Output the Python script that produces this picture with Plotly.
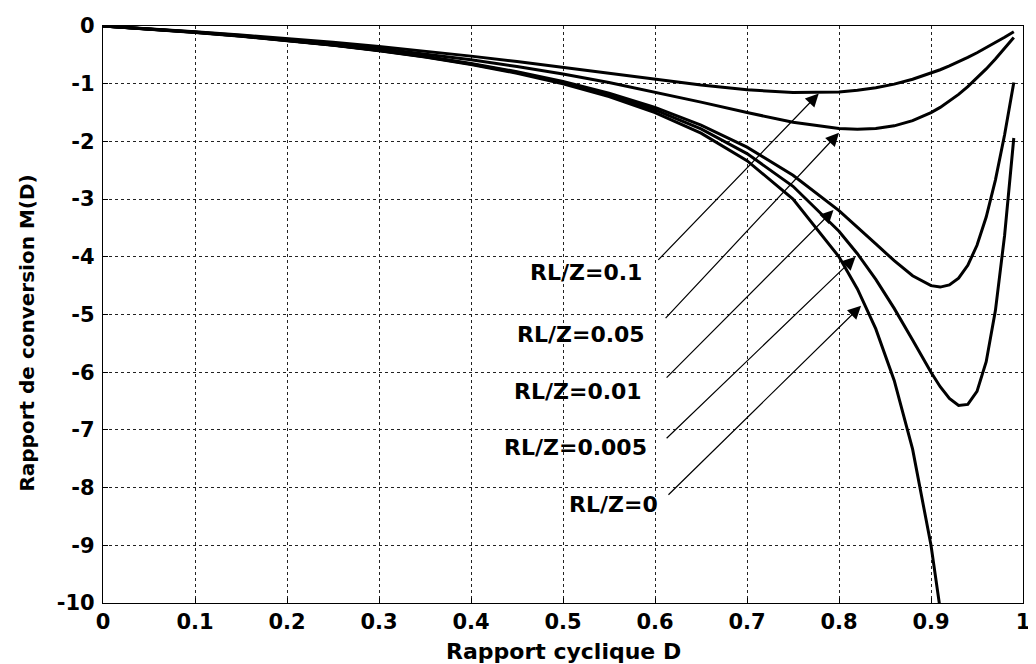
import plotly.graph_objects as go

# Duty cycle values
D = [0, 0.05, 0.1, 0.15, 0.2, 0.25, 0.3, 0.35, 0.4, 0.45, 0.5, 0.55, 0.6, 0.65,
     0.7, 0.75, 0.8, 0.82, 0.84, 0.86, 0.88, 0.9, 0.91, 0.92, 0.93, 0.94, 0.95,
     0.96, 0.97, 0.98, 0.99]

M_r0 = [0, -0.053, -0.111, -0.176, -0.25, -0.333, -0.429, -0.538, -0.667, -0.818,
        -1.0, -1.222, -1.5, -1.857, -2.333, -3.0, -4.0, -4.556, -5.25, -6.143,
        -7.333, -9.0, -10.11, -11.5]
M_r0005 = [0, -0.052, -0.110, -0.175, -0.248, -0.330, -0.424, -0.532, -0.658,
           -0.805, -0.980, -1.193, -1.455, -1.784, -2.211, -2.778, -3.556, -3.947,
           -4.392, -4.894, -5.443, -6.0, -6.252, -6.456, -6.576, -6.558, -6.333,
           -5.818, -4.932, -3.630, -1.941]
M_r001 = [0, -0.052, -0.110, -0.174, -0.246, -0.328, -0.420, -0.526, -0.649,
          -0.792, -0.962, -1.165, -1.412, -1.717, -2.1, -2.586, -3.2, -3.481,
          -3.775, -4.068, -4.328, -4.5, -4.525, -4.488, -4.369, -4.147, -3.8,
          -3.310, -2.670, -1.885, -0.980]
M_r005 = [0, -0.050, -0.105, -0.165, -0.232, -0.306, -0.389, -0.482, -0.585,
          -0.702, -0.833, -0.980, -1.143, -1.319, -1.5, -1.667, -1.778, -1.791,
          -1.778, -1.730, -1.640, -1.5, -1.410, -1.305, -1.186, -1.052, -0.905,
          -0.744, -0.572, -0.389, -0.198]
M_r01 = [0, -0.047, -0.099, -0.155, -0.216, -0.283, -0.356, -0.435, -0.522,
         -0.615, -0.714, -0.818, -0.923, -1.023, -1.105, -1.154, -1.143, -1.115,
         -1.070, -1.007, -0.923, -0.818, -0.758, -0.692, -0.621, -0.544, -0.463,
         -0.378, -0.288, -0.195, -0.099]

curves = [M_r0, M_r0005, M_r001, M_r005, M_r01]

labels = ["RL/Z=0.1", "RL/Z=0.05", "RL/Z=0.01", "RL/Z=0.005", "RL/Z=0"]
label_x = [0.588, 0.591, 0.588, 0.594, 0.605]
label_y = [-4.27, -5.35, -6.33, -7.31, -8.30]
arrow_tail_x = [0.602, 0.610, 0.611, 0.611, 0.613]
arrow_tail_y = [-4.08, -5.09, -6.12, -7.17, -8.15]
arrow_tip_x = [0.778, 0.800, 0.794, 0.818, 0.824]
arrow_tip_y = [-1.17, -1.85, -3.19, -4.00, -4.85]

x_ticks = [0, 0.1, 0.2, 0.3, 0.4, 0.5, 0.6, 0.7, 0.8, 0.9, 1]
x_ticktext = ["0", "0.1", "0.2", "0.3", "0.4", "0.5", "0.6", "0.7", "0.8", "0.9", "1"]
y_ticks = [0, -1, -2, -3, -4, -5, -6, -7, -8, -9, -10]
y_ticktext = ["0", "-1", "-2", "-3", "-4", "-5", "-6", "-7", "-8", "-9", "-10"]

fig = go.Figure()
for m in curves:
    fig.add_trace(go.Scatter(x=D[:len(m)], y=m, mode="lines",
                             line=dict(color="black", width=3),
                             showlegend=False, hoverinfo="skip"))

for i, lab in enumerate(labels):
    fig.add_annotation(x=label_x[i], y=label_y[i], xref="x", yref="y",
                       text=lab, showarrow=False, xanchor="right", yanchor="middle",
                       font=dict(family="DejaVu Sans", size=22, color="black", weight="bold"))
    fig.add_annotation(x=arrow_tip_x[i], y=arrow_tip_y[i], xref="x", yref="y",
                       ax=arrow_tail_x[i], ay=arrow_tail_y[i], axref="x", ayref="y",
                       text="", showarrow=True, arrowhead=2, arrowsize=2.2,
                       arrowwidth=1.2, arrowcolor="black")

# Figure is drawn at page offset (8, 8); plot area spans x 103..1030, y 20..603 on the page
fig.add_annotation(x=0.5, y=-0.084, xref="paper", yref="paper", text="Rapport cyclique D",
                   showarrow=False, xanchor="center", yanchor="middle",
                   font=dict(family="DejaVu Sans", size=22, color="black", weight="bold"))
fig.add_annotation(x=-0.083, y=0.468, xref="paper", yref="paper",
                   text="Rapport de conversion M(D)", textangle=-90,
                   showarrow=False, xanchor="center", yanchor="middle",
                   font=dict(family="DejaVu Sans", size=20, color="black", weight="bold"))

axis_common = dict(showline=True, linecolor="black", linewidth=1.2, mirror=True,
                   ticks="inside", ticklen=5, tickcolor="black",
                   showgrid=True, gridcolor="#222222", gridwidth=1, griddash="dot",
                   zeroline=False, ticklabeloverflow="allow",
                   tickfont=dict(family="DejaVu Sans", size=21, color="black", weight="bold"))

fig.update_xaxes(range=[0, 1], tickvals=x_ticks, ticktext=x_ticktext, **axis_common)
fig.update_yaxes(range=[-10, 0], tickvals=y_ticks, ticktext=y_ticktext,
                 ticklabelstandoff=3, **axis_common)

fig.update_layout(width=1028, height=656, plot_bgcolor="white", paper_bgcolor="white",
                  margin=dict(l=95, r=6, t=12, b=61), showlegend=False)

fig.write_html("out.html")
